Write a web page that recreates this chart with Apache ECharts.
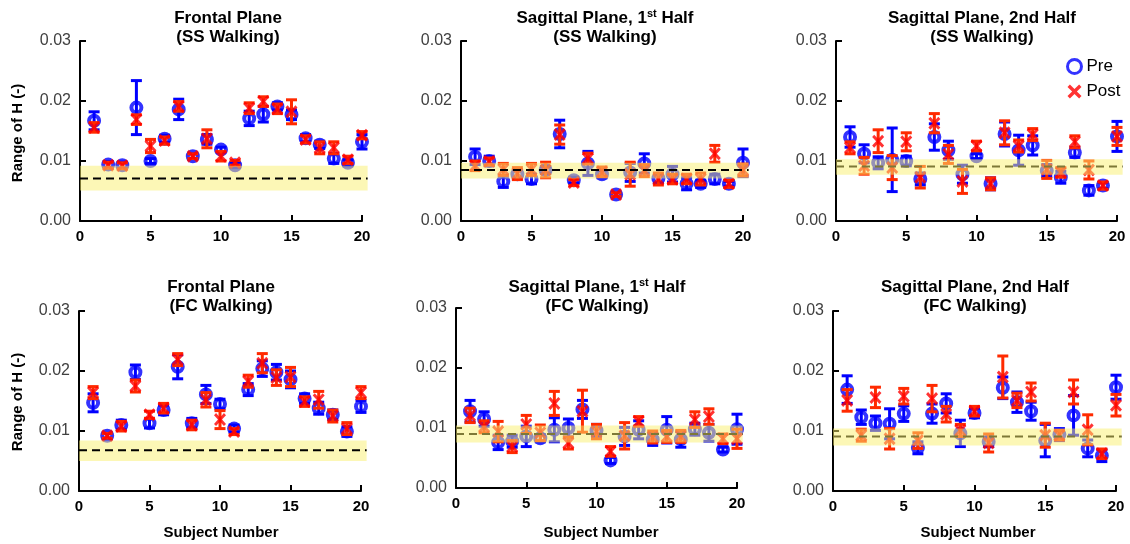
<!DOCTYPE html>
<html>
<head>
<meta charset="utf-8">
<script src="https://cdn.jsdelivr.net/npm/echarts@6/dist/echarts.min.js"></script>
<style>html,body{margin:0;padding:0;background:#fff;}#c{width:1130px;height:544px;}</style>
</head>
<body>
<div id="c"></div>
<script>
// ---------- DATA ----------
const subjects = [1,2,3,4,5,6,7,8,9,10,11,12,13,14,15,16,17,18,19,20];
const xTicks = [0,5,10,15,20];
const yTicks = [0.00,0.01,0.02,0.03];

// Frontal plane, SS walking
const frontalSS_pre     = [0.0167,0.0094,0.0093,0.0189,0.0100,0.0137,0.0186,0.0108,0.0136,0.0119,0.0093,0.0171,0.0178,0.0191,0.0177,0.0138,0.0127,0.0104,0.0097,0.0132];
const frontalSS_preErr  = [0.0015,0.0005,0.0005,0.0045,0.0004,0.0006,0.0017,0.0004,0.0008,0.0004,0.0004,0.0012,0.0013,0.0006,0.0008,0.0006,0.0006,0.0008,0.0005,0.0012];
const frontalSS_post    = [0.0156,0.0093,0.0092,0.0169,0.0125,0.0134,0.0191,0.0108,0.0137,0.0108,0.0097,0.0188,0.0199,0.0187,0.0182,0.0136,0.0122,0.0122,0.0102,0.0143];
const frontalSS_postErr = [0.0008,0.0005,0.0005,0.0008,0.0011,0.0006,0.0008,0.0004,0.0015,0.0008,0.0004,0.0009,0.0008,0.0008,0.0020,0.0006,0.0010,0.0010,0.0006,0.0006];

// Sagittal plane 1st half, SS walking
const sag1SS_pre     = [0.0107,0.0100,0.0066,0.0078,0.0070,0.0085,0.0145,0.0068,0.0096,0.0078,0.0044,0.0081,0.0096,0.0071,0.0078,0.0062,0.0062,0.0070,0.0062,0.0097];
const sag1SS_preErr  = [0.0013,0.0008,0.0010,0.0008,0.0008,0.0006,0.0023,0.0005,0.0020,0.0006,0.0003,0.0015,0.0016,0.0008,0.0013,0.0010,0.0006,0.0008,0.0004,0.0023];
const sag1SS_post    = [0.0092,0.0099,0.0086,0.0079,0.0086,0.0085,0.0144,0.0064,0.0104,0.0082,0.0044,0.0078,0.0084,0.0070,0.0070,0.0070,0.0070,0.0112,0.0062,0.0085];
const sag1SS_postErr = [0.0008,0.0006,0.0010,0.0010,0.0010,0.0013,0.0016,0.0005,0.0009,0.0008,0.0003,0.0020,0.0010,0.0010,0.0008,0.0008,0.0010,0.0014,0.0006,0.0010];

// Sagittal plane 2nd half, SS walking
const sag2SS_pre     = [0.0140,0.0112,0.0097,0.0102,0.0100,0.0070,0.0140,0.0118,0.0078,0.0108,0.0062,0.0145,0.0118,0.0126,0.0084,0.0073,0.0114,0.0051,0.0059,0.0141];
const sag2SS_preErr  = [0.0017,0.0015,0.0010,0.0053,0.0008,0.0010,0.0022,0.0015,0.0015,0.0004,0.0010,0.0020,0.0025,0.0016,0.0010,0.0010,0.0008,0.0008,0.0005,0.0025];
const sag2SS_post    = [0.0122,0.0092,0.0133,0.0089,0.0132,0.0073,0.0163,0.0111,0.0066,0.0125,0.0062,0.0147,0.0125,0.0144,0.0086,0.0081,0.0132,0.0085,0.0059,0.0141];
const sag2SS_postErr = [0.0010,0.0014,0.0019,0.0020,0.0015,0.0018,0.0016,0.0015,0.0020,0.0008,0.0010,0.0020,0.0010,0.0010,0.0015,0.0008,0.0010,0.0015,0.0006,0.0015];

// Frontal plane, FC walking
const frontalFC_pre     = [0.0147,0.0092,0.0110,0.0198,0.0113,0.0135,0.0207,0.0113,0.0161,0.0145,0.0104,0.0169,0.0204,0.0198,0.0186,0.0154,0.0138,0.0127,0.0099,0.0141];
const frontalFC_preErr  = [0.0015,0.0004,0.0008,0.0012,0.0008,0.0008,0.0020,0.0008,0.0015,0.0008,0.0006,0.0010,0.0013,0.0013,0.0014,0.0008,0.0010,0.0008,0.0008,0.0010];
const frontalFC_post    = [0.0164,0.0092,0.0108,0.0175,0.0127,0.0138,0.0219,0.0110,0.0152,0.0119,0.0099,0.0183,0.0213,0.0189,0.0190,0.0149,0.0152,0.0125,0.0104,0.0164];
const frontalFC_postErr = [0.0010,0.0004,0.0008,0.0010,0.0006,0.0008,0.0010,0.0008,0.0012,0.0015,0.0005,0.0010,0.0016,0.0013,0.0016,0.0008,0.0014,0.0010,0.0010,0.0010];

// Sagittal plane 1st half, FC walking
const sag1FC_pre     = [0.0128,0.0115,0.0076,0.0078,0.0086,0.0083,0.0097,0.0100,0.0131,0.0096,0.0046,0.0086,0.0097,0.0081,0.0097,0.0081,0.0098,0.0092,0.0064,0.0098];
const sag1FC_preErr  = [0.0018,0.0012,0.0012,0.0010,0.0017,0.0006,0.0020,0.0015,0.0015,0.0010,0.0005,0.0015,0.0015,0.0010,0.0022,0.0013,0.0010,0.0014,0.0004,0.0025];
const sag1FC_post    = [0.0121,0.0102,0.0094,0.0069,0.0106,0.0092,0.0141,0.0075,0.0128,0.0094,0.0061,0.0087,0.0111,0.0085,0.0086,0.0086,0.0114,0.0119,0.0082,0.0082];
const sag1FC_postErr = [0.0012,0.0010,0.0017,0.0010,0.0015,0.0013,0.0020,0.0010,0.0035,0.0012,0.0008,0.0022,0.0008,0.0010,0.0010,0.0010,0.0013,0.0013,0.0008,0.0016];

// Sagittal plane 2nd half, FC walking
const sag2FC_pre     = [0.0169,0.0123,0.0113,0.0112,0.0129,0.0072,0.0129,0.0146,0.0096,0.0130,0.0082,0.0172,0.0148,0.0133,0.0084,0.0094,0.0126,0.0071,0.0059,0.0173];
const sag2FC_preErr  = [0.0023,0.0012,0.0012,0.0025,0.0013,0.0010,0.0016,0.0016,0.0022,0.0008,0.0008,0.0018,0.0017,0.0015,0.0027,0.0010,0.0033,0.0014,0.0010,0.0020];
const sag2FC_post    = [0.0151,0.0093,0.0156,0.0087,0.0158,0.0084,0.0154,0.0128,0.0101,0.0133,0.0080,0.0190,0.0151,0.0165,0.0093,0.0093,0.0165,0.0102,0.0062,0.0143];
const sag2FC_postErr = [0.0018,0.0010,0.0017,0.0017,0.0013,0.0013,0.0022,0.0013,0.0010,0.0008,0.0015,0.0035,0.0012,0.0015,0.0020,0.0008,0.0020,0.0025,0.0008,0.0018];

// Reference band (healthy range) and mean, per panel
const bandLow  = [0.0051,0.0071,0.0077,0.0050,0.0076,0.0076];
const bandHigh = [0.0092,0.0097,0.0103,0.0084,0.0104,0.0104];
const bandMean = [0.0071,0.0085,0.0091,0.0068,0.0090,0.0091];

const titleLine1 = ['Frontal Plane','Sagittal Plane, 1|st| Half','Sagittal Plane, 2nd Half','Frontal Plane','Sagittal Plane, 1|st| Half','Sagittal Plane, 2nd Half'];
const titleLine2 = ['(SS Walking)','(SS Walking)','(SS Walking)','(FC Walking)','(FC Walking)','(FC Walking)'];

// ---------- LAYOUT / STYLE ----------
const FONT = '"Liberation Sans", Arial, sans-serif';
const layout = [
  {left:80,  top:41,  width:282, height:180, tx:228, ty:18, lineAbove:true},
  {left:461, top:41,  width:282, height:180, tx:605, ty:18, lineAbove:true},
  {left:836, top:41,  width:281, height:180, tx:982, ty:18, lineAbove:false},
  {left:79,  top:311, width:282, height:180, tx:221, ty:287, lineAbove:true},
  {left:456, top:308, width:281, height:180, tx:597, ty:287, lineAbove:false},
  {left:833, top:311, width:283, height:180, tx:975, ty:287, lineAbove:false}
];
const panelData = [
  [frontalSS_pre, frontalSS_preErr, frontalSS_post, frontalSS_postErr],
  [sag1SS_pre, sag1SS_preErr, sag1SS_post, sag1SS_postErr],
  [sag2SS_pre, sag2SS_preErr, sag2SS_post, sag2SS_postErr],
  [frontalFC_pre, frontalFC_preErr, frontalFC_post, frontalFC_postErr],
  [sag1FC_pre, sag1FC_preErr, sag1FC_post, sag1FC_postErr],
  [sag2FC_pre, sag2FC_preErr, sag2FC_post, sag2FC_postErr]
];
const BAND_X_END = 20.4;
const BLUE = '#0000FF', RED = '#FF0000', RED_BAR = '#FF2A00';
const XPATH = 'path://M0,1.7L1.7,0L5,3.3L8.3,0L10,1.7L6.7,5L10,8.3L8.3,10L5,6.7L1.7,10L0,8.3L3.3,5Z';

function errRender(color){
  return function(params, api){
    const x = api.value(0);
    const lo = api.coord([x, api.value(1)]);
    const hi = api.coord([x, api.value(2)]);
    const hw = 5.5;
    const style = {stroke: color, lineWidth: 3};
    return {type:'group', children:[
      {type:'line', shape:{x1:lo[0],y1:lo[1],x2:hi[0],y2:hi[1]}, style:style},
      {type:'line', shape:{x1:lo[0]-hw,y1:lo[1],x2:lo[0]+hw,y2:lo[1]}, style:style},
      {type:'line', shape:{x1:hi[0]-hw,y1:hi[1],x2:hi[0]+hw,y2:hi[1]}, style:style}
    ]};
  };
}
function bandRender(params, api){
  const p0 = api.coord([api.value(0), api.value(3)]);
  const p1 = api.coord([api.value(1), api.value(2)]);
  return {type:'rect', shape:{x:p0[0], y:p0[1], width:p1[0]-p0[0], height:p1[1]-p0[1]},
          style:{fill:'rgba(250,240,110,0.5)'}};
}
function meanRender(params, api){
  const p0 = api.coord([api.value(0), api.value(2)]);
  const p1 = api.coord([api.value(1), api.value(2)]);
  return {type:'line', shape:{x1:p0[0],y1:p0[1],x2:p1[0],y2:p1[1]},
          style:{stroke:'#000', lineWidth:2, lineDash:[8,5]}};
}

const grids = [], xAxes = [], yAxes = [], series = [], graphics = [];
layout.forEach(function(L, i){
  grids.push({left:L.left, top:L.top, width:L.width, height:L.height});
  xAxes.push({gridIndex:i, type:'value', min:xTicks[0], max:xTicks[xTicks.length-1], interval:xTicks[1]-xTicks[0],
    axisLine:{show:true, onZero:false, lineStyle:{color:'#000', width:2}},
    axisTick:{show:true, inside:true, length:6, lineStyle:{color:'#000', width:2}},
    axisLabel:{color:'#000', fontWeight:'bold', fontSize:15, margin:8, fontFamily:FONT},
    splitLine:{show:false}});
  yAxes.push({gridIndex:i, type:'value', min:yTicks[0], max:yTicks[yTicks.length-1], interval:yTicks[1]-yTicks[0],
    axisLine:{show:true, onZero:false, lineStyle:{color:'#000', width:2}},
    axisTick:{show:true, inside:true, length:6, lineStyle:{color:'#000', width:2}},
    axisLabel:{color:'#404040', fontSize:16, margin:9, fontFamily:FONT, formatter:function(v){return v.toFixed(2);}},
    splitLine:{show:false}});
  const d = panelData[i];
  series.push({type:'custom', name:'PreErr', xAxisIndex:i, yAxisIndex:i, z:2, silent:true,
    renderItem:errRender(BLUE), encode:{x:0, y:[1,2]},
    data:subjects.map(function(s,k){return [s, d[0][k]-d[1][k], d[0][k]+d[1][k]];})});
  series.push({type:'scatter', name:'Pre', xAxisIndex:i, yAxisIndex:i, z:3, symbol:'circle', symbolSize:10,
    itemStyle:{color:'rgba(0,0,0,0)', borderColor:BLUE, borderWidth:4},
    data:subjects.map(function(s,k){return [s, d[0][k]];})});
  series.push({type:'custom', name:'PostErr', xAxisIndex:i, yAxisIndex:i, z:4, silent:true,
    renderItem:errRender(RED_BAR), encode:{x:0, y:[1,2]},
    data:subjects.map(function(s,k){return [s, d[2][k]-d[3][k], d[2][k]+d[3][k]];})});
  series.push({type:'scatter', name:'Post', xAxisIndex:i, yAxisIndex:i, z:5, symbol:XPATH, symbolSize:[12,13],
    itemStyle:{color:RED},
    data:subjects.map(function(s,k){return [s, d[2][k]];})});
  series.push({type:'custom', name:'Band', xAxisIndex:i, yAxisIndex:i, z:6, silent:true,
    renderItem:bandRender, encode:{x:[0,1], y:[2,3]},
    data:[[xTicks[0], BAND_X_END, bandLow[i], bandHigh[i]]]});
  series.push({type:'custom', name:'Mean', xAxisIndex:i, yAxisIndex:i, z:L.lineAbove?7:5.5, silent:true,
    renderItem:meanRender, encode:{x:[0,1], y:2},
    data:[[xTicks[0], BAND_X_END, bandMean[i]]]});

  // titles
  const parts = titleLine1[i].split('|');
  let rtext;
  if (parts.length === 3) rtext = '{t|' + parts[0] + '}{s|' + parts[1] + '}{t|' + parts[2] + '}';
  else rtext = '{t|' + parts[0] + '}';
  graphics.push({type:'text', x:L.tx, y:L.ty, silent:true, style:{text:rtext, align:'center', verticalAlign:'middle',
    rich:{t:{font:'bold 17px ' + FONT, fill:'#000', lineHeight:20},
          s:{font:'bold 11px ' + FONT, fill:'#000', verticalAlign:'top', lineHeight:20}}}});
  graphics.push({type:'text', x:L.tx, y:L.ty+19, silent:true, style:{text:titleLine2[i], align:'center', verticalAlign:'middle',
    font:'bold 17px ' + FONT, fill:'#000'}});
});

// axis names
graphics.push({type:'text', x:18, y:133, rotation:Math.PI/2, silent:true, style:{text:'Range of H (-)', align:'center', verticalAlign:'middle', font:'bold 15px ' + FONT, fill:'#000'}});
graphics.push({type:'text', x:18, y:402, rotation:Math.PI/2, silent:true, style:{text:'Range of H (-)', align:'center', verticalAlign:'middle', font:'bold 15px ' + FONT, fill:'#000'}});
[221, 601, 978].forEach(function(cx){
  graphics.push({type:'text', x:cx, y:533, silent:true, style:{text:'Subject Number', align:'center', verticalAlign:'middle', font:'bold 15px ' + FONT, fill:'#000'}});
});

const chart = echarts.init(document.getElementById('c'), null, {renderer:'canvas'});
chart.setOption({
  animation:false,
  backgroundColor:'#fff',
  textStyle:{fontFamily:FONT},
  grid:grids, xAxis:xAxes, yAxis:yAxes, series:series, graphic:graphics,
  legend:{left:1066, top:58, orient:'vertical', itemWidth:14, itemHeight:14, itemGap:8, selectedMode:false, padding:0,
    textStyle:{fontSize:17, color:'#000', fontFamily:FONT},
    data:[{name:'Pre', icon:'circle', itemStyle:{color:'rgba(0,0,0,0)', borderColor:BLUE, borderWidth:3}},
          {name:'Post', icon:XPATH, itemStyle:{color:RED, borderWidth:0}}]}
});
</script>
</body>
</html>
